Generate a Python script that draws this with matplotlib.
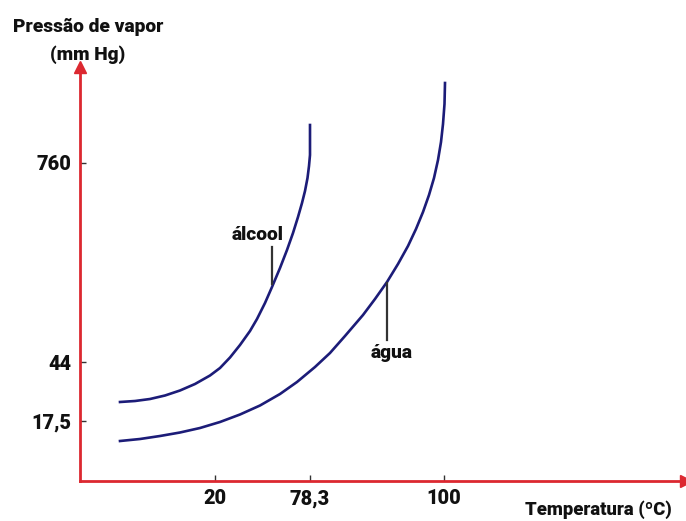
import matplotlib
matplotlib.use("Agg")
import matplotlib.pyplot as plt

# Schematic chart: positions along axes are schematic (not to scale)
x_tick_pos = [135, 230, 364]
x_tick_labels = ["20", "78,3", "100"]
y_tick_pos = [60, 119, 318]
y_tick_labels = ["17,5", "44", "760"]

alcool_x = [40, 55, 70, 85, 100, 115, 130, 140, 150, 160, 170, 177, 185, 192,
            200, 207, 213, 218, 222, 225, 227.5, 229, 230, 230]
alcool_y = [79, 80, 82, 85.5, 90.5, 97, 105.5, 113, 123.5, 136, 150, 162, 178,
            194, 213, 231, 248, 264, 278, 290, 303, 315, 326, 356]

agua_x = [40, 60, 80, 100, 120, 140, 160, 180, 200, 217, 235, 250, 265, 283,
          295, 307, 318, 328, 336, 343, 349, 354, 358, 361, 363, 364.5, 365]
agua_y = [40, 42, 45, 48.5, 53, 59, 66.5, 75.5, 87, 99, 114, 128, 145, 166,
          182, 199, 217, 235, 252, 269, 286, 303, 321, 339, 357, 377, 398]

FONT = ["Roboto", "DejaVu Sans"]
RED = "#dc2830"
NAVY = "#1c1c78"
FS = 13.8
WEIGHT = "heavy"

W, H = 686, 521
fig = plt.figure(figsize=(W / 100, H / 100), dpi=100)
ox, oy = 80, 481          # origin in pixels
tx, ty = 686, 67          # arrow tips in pixels
ax = fig.add_axes([ox / W, (H - oy) / H, (tx - ox) / W, (oy - ty) / H])
ax.set_xlim(0, tx - ox)
ax.set_ylim(0, oy - ty)

for s in ["top", "right"]:
    ax.spines[s].set_visible(False)
for s in ["left", "bottom"]:
    ax.spines[s].set_color(RED)
    ax.spines[s].set_linewidth(2.0)

# arrow heads
ax.plot([0], [1], marker="^", markersize=9, color=RED, transform=ax.transAxes,
        clip_on=False)
ax.plot([1], [0], marker=">", markersize=9, color=RED, transform=ax.transAxes,
        clip_on=False)

ax.set_xticks(x_tick_pos)
ax.set_xticklabels(x_tick_labels)
ax.set_yticks(y_tick_pos)
ax.set_yticklabels(y_tick_labels)
ax.tick_params(direction="in", length=4, width=1, color="#333333", pad=6)
for lab in ax.get_xticklabels() + ax.get_yticklabels():
    lab.set_fontfamily(FONT)
    lab.set_fontweight(WEIGHT)
    lab.set_fontsize(FS + 0.5)
    lab.set_color("#111111")

ax.plot(alcool_x, alcool_y, color=NAVY, lw=1.9, solid_joinstyle="round")
ax.plot(agua_x, agua_y, color=NAVY, lw=1.9, solid_joinstyle="round")

# labels with leader lines
ax.plot([192, 192], [197, 234], color="#333333", lw=1.6)
ax.text(178, 246, "álcool", ha="center", va="center", fontsize=FS,
        fontweight=WEIGHT, family=FONT, color="#111111")
ax.plot([307, 307], [141, 198], color="#333333", lw=1.6)
ax.text(312, 128, "água", ha="center", va="center", fontsize=FS,
        fontweight=WEIGHT, family=FONT, color="#111111")

# axis titles
fig.text(88 / W, 1 - 27 / H, "Pressão de vapor", ha="center", va="center",
         fontsize=FS, fontweight=WEIGHT, family=FONT, color="#111111")
fig.text(88 / W, 1 - 55 / H, "(mm Hg)", ha="center", va="center",
         fontsize=FS, fontweight=WEIGHT, family=FONT, color="#111111")
fig.text(598 / W, 1 - 510 / H, "Temperatura (ºC)", ha="center", va="center",
         fontsize=FS - 0.5, fontweight=WEIGHT, family=FONT, color="#111111")

fig.savefig("out.png", dpi=100)
